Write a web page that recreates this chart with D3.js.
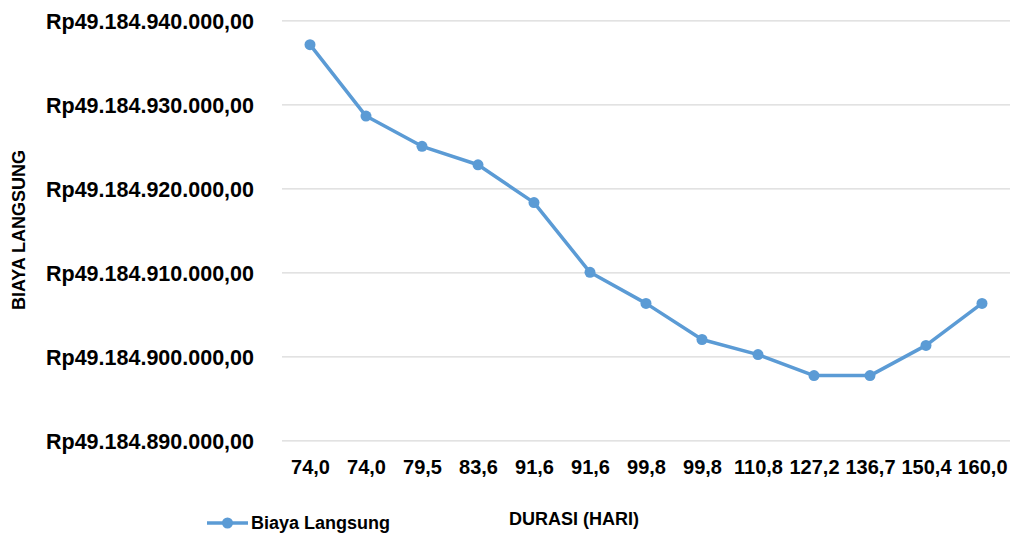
<!DOCTYPE html>
<html>
<head>
<meta charset="utf-8">
<script src="https://cdn.jsdelivr.net/npm/d3@7"></script>
<style>
  html, body { margin: 0; padding: 0; background: #fff; }
  svg { display: block; }
  text { font-family: "Liberation Sans", Arial, sans-serif; font-weight: bold; fill: #000; }
</style>
</head>
<body>
<svg id="chart" width="1015" height="541"></svg>
<script>
// Duration categories (days) along the x axis
const durations = ["74,0", "74,0", "79,5", "83,6", "91,6", "91,6", "99,8", "99,8", "110,8", "127,2", "136,7", "150,4", "160,0"];
// Direct cost (Rp) for each duration
const biayaLangsung = [
  49184937100, 49184928600, 49184925000, 49184922800, 49184918300, 49184910000,
  49184906300, 49184902000, 49184900200, 49184897700, 49184897700, 49184901300, 49184906300
];
// Y axis tick values
const yTicks = [49184890000, 49184900000, 49184910000, 49184920000, 49184930000, 49184940000];
const seriesName = "Biaya Langsung";

const svg = d3.select("#chart");
const plot = { left: 282, right: 1010, top: 20.3, bottom: 440.3 };
const blue = "#5B9BD5";

const x = d3.scalePoint()
  .domain(d3.range(durations.length))
  .range([plot.left, plot.right])
  .padding(0.5);

const y = d3.scaleLinear()
  .domain([49184890000, 49184940000])
  .range([plot.bottom, plot.top]);

// Indonesian currency formatting: "Rp49.184.940.000,00"
function rupiah(v) {
  const s = Math.round(v).toString().replace(/\B(?=(\d{3})+(?!\d))/g, ".");
  return "Rp" + s + ",00";
}

// Horizontal gridlines + value labels
const yAxis = d3.axisLeft(y)
  .tickValues(yTicks)
  .tickSize(-(plot.right - plot.left))
  .tickPadding(28)
  .tickFormat(rupiah);

const gy = svg.append("g")
  .attr("transform", `translate(${plot.left},0)`)
  .call(yAxis);
gy.select(".domain").remove();
gy.selectAll(".tick line").attr("stroke", "#D9D9D9").attr("stroke-width", 1.3);
gy.selectAll(".tick text")
  .style("font-size", "21.5px")
  .attr("fill", "#000")
  .attr("dy", "0.36em");

// Category labels below the plot
const xAxis = d3.axisBottom(x)
  .tickSize(0)
  .tickPadding(20)
  .tickFormat(i => durations[i]);
const gx = svg.append("g")
  .attr("transform", `translate(0,${plot.bottom})`)
  .call(xAxis);
gx.select(".domain").remove();
gx.selectAll(".tick text")
  .style("font-size", "20px")
  .attr("fill", "#000");

// Cost line and markers
const line = d3.line()
  .x((d, i) => x(i))
  .y(d => y(d));

svg.append("path")
  .datum(biayaLangsung)
  .attr("fill", "none")
  .attr("stroke", blue)
  .attr("stroke-width", 3.5)
  .attr("stroke-linejoin", "round")
  .attr("d", line);

svg.append("g")
  .selectAll("circle")
  .data(biayaLangsung)
  .join("circle")
  .attr("cx", (d, i) => x(i))
  .attr("cy", d => y(d))
  .attr("r", 5.5)
  .attr("fill", blue);

// Axis titles
svg.append("text")
  .attr("transform", "translate(25,230) rotate(-90)")
  .attr("text-anchor", "middle")
  .style("font-size", "18px")
  .text("BIAYA LANGSUNG");

svg.append("text")
  .attr("x", 574)
  .attr("y", 525)
  .attr("text-anchor", "middle")
  .style("font-size", "18px")
  .text("DURASI (HARI)");

// Legend
const lg = svg.append("g").attr("transform", "translate(207,523)");
lg.append("line")
  .attr("x1", 0).attr("x2", 41)
  .attr("stroke", blue).attr("stroke-width", 3.5);
lg.append("circle").attr("cx", 20.5).attr("r", 5.5).attr("fill", blue);
lg.append("text")
  .attr("x", 44)
  .attr("dy", "0.36em")
  .style("font-size", "18px")
  .text(seriesName);
</script>
</body>
</html>
